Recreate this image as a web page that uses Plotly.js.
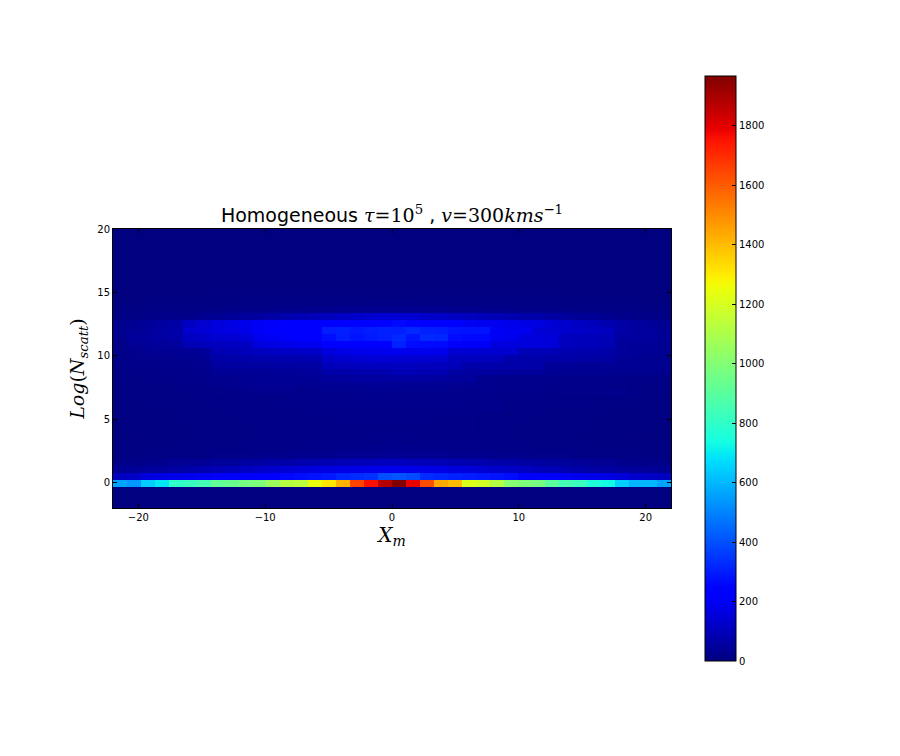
<!DOCTYPE html>
<html>
<head>
<meta charset="utf-8">
<script src="https://cdn.plot.ly/plotly-3.0.1.min.js"></script>
<style>html,body{margin:0;padding:0;background:#fff;}#chart{width:900px;height:756px;}</style>
</head>
<body>
<div id="chart"></div>
<script>
// Histogram bins: 40 x-bins over [-22,22], 40 y-bins over [-2,20]
const xStart = -22, xBinWidth = 1.1;
const yStart = -2, yBinWidth = 0.55;
const xTickVals = [-20, -10, 0, 10, 20];
const yTickVals = [0, 5, 10, 15, 20];
const cbarTickVals = [0, 200, 400, 600, 800, 1000, 1200, 1400, 1600, 1800];
const zMax = 1968;

// counts per row (row 0 = lowest y bin), 40 columns each (left to right)
const row00 = [0,0,0,0,0,0,0,0,0,0,0,0,0,0,0,0,0,0,0,0,0,0,0,0,0,0,0,0,0,0,0,0,0,0,0,0,0,0,0,0];
const row01 = [0,0,0,0,0,0,0,0,0,0,0,0,0,0,0,0,0,0,0,0,0,0,0,0,0,0,0,0,0,0,0,0,0,0,0,0,0,0,0,0];
const row02 = [0,0,0,0,0,0,0,0,0,0,0,0,0,0,0,0,0,0,0,0,0,0,0,0,0,0,0,0,0,0,0,0,0,0,0,0,0,0,0,0];
const row03 = [560,540,640,690,800,820,850,920,940,970,990,1060,1120,1140,1250,1310,1420,1650,1760,1880,1968,1790,1630,1440,1400,1210,1190,1120,1010,990,970,900,850,830,760,730,650,600,600,560];
const row04 = [110,120,160,170,180,190,200,210,215,220,230,240,260,270,280,290,320,330,340,400,410,390,330,320,310,300,290,280,270,240,220,210,200,190,180,170,150,130,120,110];
const row05 = [35,40,45,50,60,70,80,90,100,110,120,130,140,150,160,165,170,175,180,185,185,180,175,170,160,150,140,130,120,110,100,90,80,70,60,55,50,45,40,35];
const row06 = [15,18,20,25,30,35,40,45,50,55,60,65,70,75,80,85,90,95,100,105,105,100,95,90,85,80,75,70,65,60,55,50,45,40,35,30,25,20,18,15];
const row07 = [5,5,6,8,10,10,12,14,15,16,18,20,22,24,26,28,30,30,32,34,34,32,30,30,28,26,24,22,20,18,16,15,14,12,10,10,8,6,5,5];
const row08 = [3,4,5,6,7,8,9,10,11,12,13,14,15,16,17,18,19,19,20,21,21,20,19,19,18,17,16,15,14,13,12,11,10,9,8,7,6,5,4,3];
const row09 = [3,3,4,5,5,6,7,8,9,10,11,12,13,13,14,15,15,16,16,17,17,16,16,15,15,14,13,12,11,10,9,8,7,6,5,5,4,3,3,3];
const row10 = [2,2,3,4,4,5,6,7,8,9,10,10,11,12,13,13,14,14,15,15,15,14,14,13,13,12,11,10,10,9,8,7,6,5,4,4,3,2,2,2];
const row11 = [2,3,3,4,5,6,6,7,8,9,10,11,12,13,13,14,15,15,16,16,16,15,15,14,13,13,12,11,10,9,8,7,6,6,5,4,3,3,3,2];
const row12 = [2,3,4,5,5,6,7,8,9,10,11,12,12,13,14,15,15,16,16,17,16,16,15,15,14,13,12,12,11,10,9,8,7,6,5,5,4,3,3,2];
const row13 = [3,3,4,5,6,7,8,9,10,11,12,13,14,15,16,16,17,18,18,19,18,18,17,16,16,15,14,13,12,11,10,9,8,7,6,5,4,4,3,3];
const row14 = [3,4,5,6,7,8,9,10,11,12,13,14,15,16,17,18,19,20,20,21,20,20,19,18,17,18,22,24,15,14,13,12,11,10,9,8,7,6,5,4];
const row15 = [4,5,6,7,8,9,10,12,13,14,15,16,17,18,20,21,22,23,24,24,23,22,21,21,20,19,18,17,16,15,14,13,12,11,10,10,9,8,6,5];
const row16 = [5,6,7,8,9,10,12,14,16,18,20,20,21,22,22,24,25,26,26,27,26,25,24,24,23,22,21,20,19,18,17,16,15,14,16,20,22,12,8,6];
const row17 = [6,8,10,11,12,14,16,20,22,24,34,36,34,26,28,32,34,36,38,38,36,34,34,32,30,28,26,24,22,20,20,19,18,17,16,15,14,12,10,8];
const row18 = [8,10,12,14,16,18,20,25,28,30,32,34,36,36,38,50,52,55,56,58,56,55,54,52,50,48,24,22,22,21,20,20,19,18,18,17,16,15,14,12];
const row19 = [10,12,13,15,16,18,20,36,38,38,40,40,42,42,44,70,72,74,76,78,90,88,86,85,58,56,55,54,52,50,48,32,30,30,28,28,26,25,24,22];
const row20 = [12,14,16,18,20,22,25,52,54,55,56,58,58,60,60,100,104,106,108,110,108,106,104,102,100,74,72,70,70,68,66,40,38,38,36,36,35,34,32,30];
const row21 = [15,18,20,22,24,26,30,66,70,72,75,76,78,80,82,125,135,140,145,148,142,140,138,135,108,106,104,100,75,72,72,70,68,64,60,56,36,32,28,24];
const row22 = [16,20,30,32,34,38,42,86,92,100,110,115,120,122,125,160,170,180,185,190,192,190,188,185,142,140,138,136,135,92,90,88,84,80,76,70,48,42,36,30];
const row23 = [16,36,42,46,50,90,100,106,110,115,160,170,180,190,192,215,218,220,216,218,310,268,265,262,210,208,205,160,158,156,155,150,104,100,96,90,46,42,38,32];
const row24 = [20,44,52,58,64,112,122,134,142,150,190,200,210,216,216,270,300,280,295,304,323,285,325,320,268,262,260,195,188,160,155,150,106,100,96,90,58,52,48,40];
const row25 = [28,34,44,60,66,135,145,160,168,178,205,214,216,222,230,300,306,290,300,310,304,323,306,300,285,282,280,200,192,188,145,140,132,120,112,106,62,54,48,40];
const row26 = [24,32,42,56,70,110,135,155,170,185,200,210,216,220,225,228,232,236,240,250,262,250,240,232,222,200,192,188,180,172,165,145,130,115,100,80,62,52,42,32];
const row27 = [8,10,12,14,18,22,28,34,42,50,58,66,76,86,96,106,116,126,134,140,142,136,128,120,112,104,96,88,80,74,68,58,48,40,34,28,22,16,12,10];
const row28 = [4,5,6,7,8,9,10,12,14,15,16,18,19,20,22,23,24,25,25,26,26,25,25,24,23,22,20,19,18,16,15,14,12,10,9,8,7,6,5,4];
const row29 = [2,2,3,3,4,4,5,5,6,6,7,7,8,8,8,9,9,9,10,10,10,10,9,9,9,8,8,8,7,7,6,6,5,5,4,4,3,3,2,2];
const row30 = [1,1,1,2,2,2,2,3,3,3,3,4,4,4,4,5,5,5,5,5,5,5,5,5,4,4,4,4,3,3,3,3,2,2,2,2,1,1,1,1];
const row31 = [0,0,0,1,1,1,1,1,1,1,1,2,2,2,2,2,2,2,2,2,2,2,2,2,2,2,2,2,1,1,1,1,1,1,1,1,0,0,0,0];
const row32 = [0,0,0,0,0,0,0,0,0,0,0,1,1,1,1,1,1,1,1,1,1,1,1,1,1,1,1,1,0,0,0,0,0,0,0,0,0,0,0,0];
const row33 = [0,0,0,0,0,0,0,0,0,0,0,0,0,0,0,0,0,0,0,0,0,0,0,0,0,0,0,0,0,0,0,0,0,0,0,0,0,0,0,0];
const row34 = [0,0,0,0,0,0,0,0,0,0,0,0,0,0,0,0,0,0,0,0,0,0,0,0,0,0,0,0,0,0,0,0,0,0,0,0,0,0,0,0];
const row35 = [0,0,0,0,0,0,0,0,0,0,0,0,0,0,0,0,0,0,0,0,0,0,0,0,0,0,0,0,0,0,0,0,0,0,0,0,0,0,0,0];
const row36 = [0,0,0,0,0,0,0,0,0,0,0,0,0,0,0,0,0,0,0,0,0,0,0,0,0,0,0,0,0,0,0,0,0,0,0,0,0,0,0,0];
const row37 = [0,0,0,0,0,0,0,0,0,0,0,0,0,0,0,0,0,0,0,0,0,0,0,0,0,0,0,0,0,0,0,0,0,0,0,0,0,0,0,0];
const row38 = [0,0,0,0,0,0,0,0,0,0,0,0,0,0,0,0,0,0,0,0,0,0,0,0,0,0,0,0,0,0,0,0,0,0,0,0,0,0,0,0];
const row39 = [0,0,0,0,0,0,0,0,0,0,0,0,0,0,0,0,0,0,0,0,0,0,0,0,0,0,0,0,0,0,0,0,0,0,0,0,0,0,0,0];

const z = [row00,row01,row02,row03,row04,row05,row06,row07,row08,row09,
           row10,row11,row12,row13,row14,row15,row16,row17,row18,row19,
           row20,row21,row22,row23,row24,row25,row26,row27,row28,row29,
           row30,row31,row32,row33,row34,row35,row36,row37,row38,row39];

// matplotlib "jet"
const jet = [
  [0.0, 'rgb(0,0,128)'], [0.11, 'rgb(0,0,255)'], [0.125, 'rgb(0,0,255)'],
  [0.34, 'rgb(0,219,255)'], [0.35, 'rgb(0,230,247)'], [0.375, 'rgb(21,255,226)'],
  [0.64, 'rgb(239,255,8)'], [0.65, 'rgb(247,246,0)'], [0.66, 'rgb(255,236,0)'],
  [0.89, 'rgb(255,19,0)'], [0.91, 'rgb(232,0,0)'], [1.0, 'rgb(128,0,0)']
];

const trace = {
  type: 'heatmap',
  z: z,
  x0: xStart + xBinWidth / 2, dx: xBinWidth,
  y0: yStart + yBinWidth / 2, dy: yBinWidth,
  zmin: 0, zmax: zMax,
  colorscale: jet,
  zsmooth: false,
  hoverinfo: 'skip',
  colorbar: {
    x: 1.061, xanchor: 'left', xpad: 0,
    y: 0.5, yanchor: 'middle', ypad: 0,
    lenmode: 'pixels', len: 585,
    thickness: 31, thicknessmode: 'pixels',
    outlinecolor: '#000', outlinewidth: 1,
    ticks: 'inside', ticklen: 4, tickcolor: '#000', tickwidth: 1,
    tickvals: cbarTickVals,
    tickfont: {family: 'DejaVu Sans', size: 10, color: '#000'}
  }
};

const mathFont = 'DejaVu Serif';
const layout = {
  width: 900, height: 756,
  paper_bgcolor: '#fff', plot_bgcolor: '#fff',
  margin: {l: 113, r: 229, t: 229, b: 248, pad: 0},
  showlegend: false,
  title: {
    text: 'Homogeneous <span style="font-family:' + mathFont + '"><i>τ</i>=10<sup>5</sup></span> , <span style="font-family:' + mathFont + '"><i>v</i>=300<i>kms</i><sup>−1</sup></span>',
    font: {family: 'DejaVu Sans', size: 19, color: '#000'},
    xref: 'paper', x: 0.5, xanchor: 'center',
    yref: 'container', y: 1 - 215 / 756, yanchor: 'middle'
  },
  xaxis: {
    range: [-22, 22], tickvals: xTickVals,
    ticks: 'inside', ticklen: 4, tickcolor: '#000',
    showline: true, linecolor: '#000', linewidth: 1, mirror: 'ticks',
    showgrid: false, zeroline: false,
    tickfont: {family: 'DejaVu Sans', size: 10, color: '#000'},
    title: {text: '<i>X</i><sub><i>m</i></sub>', font: {family: mathFont, size: 20, color: '#000'}, standoff: 5}
  },
  yaxis: {
    range: [-2, 20], tickvals: yTickVals,
    ticks: 'inside', ticklen: 4, tickcolor: '#000',
    showline: true, linecolor: '#000', linewidth: 1, mirror: 'ticks',
    showgrid: false, zeroline: false,
    tickfont: {family: 'DejaVu Sans', size: 10, color: '#000'},
    title: {text: '<i>Log</i>(<i>N</i><sub><i>scatt</i></sub>)', font: {family: mathFont, size: 19, color: '#000'}, standoff: 7}
  }
};

Plotly.newPlot('chart', [trace], layout, {staticPlot: true, displayModeBar: false});
</script>
</body>
</html>
